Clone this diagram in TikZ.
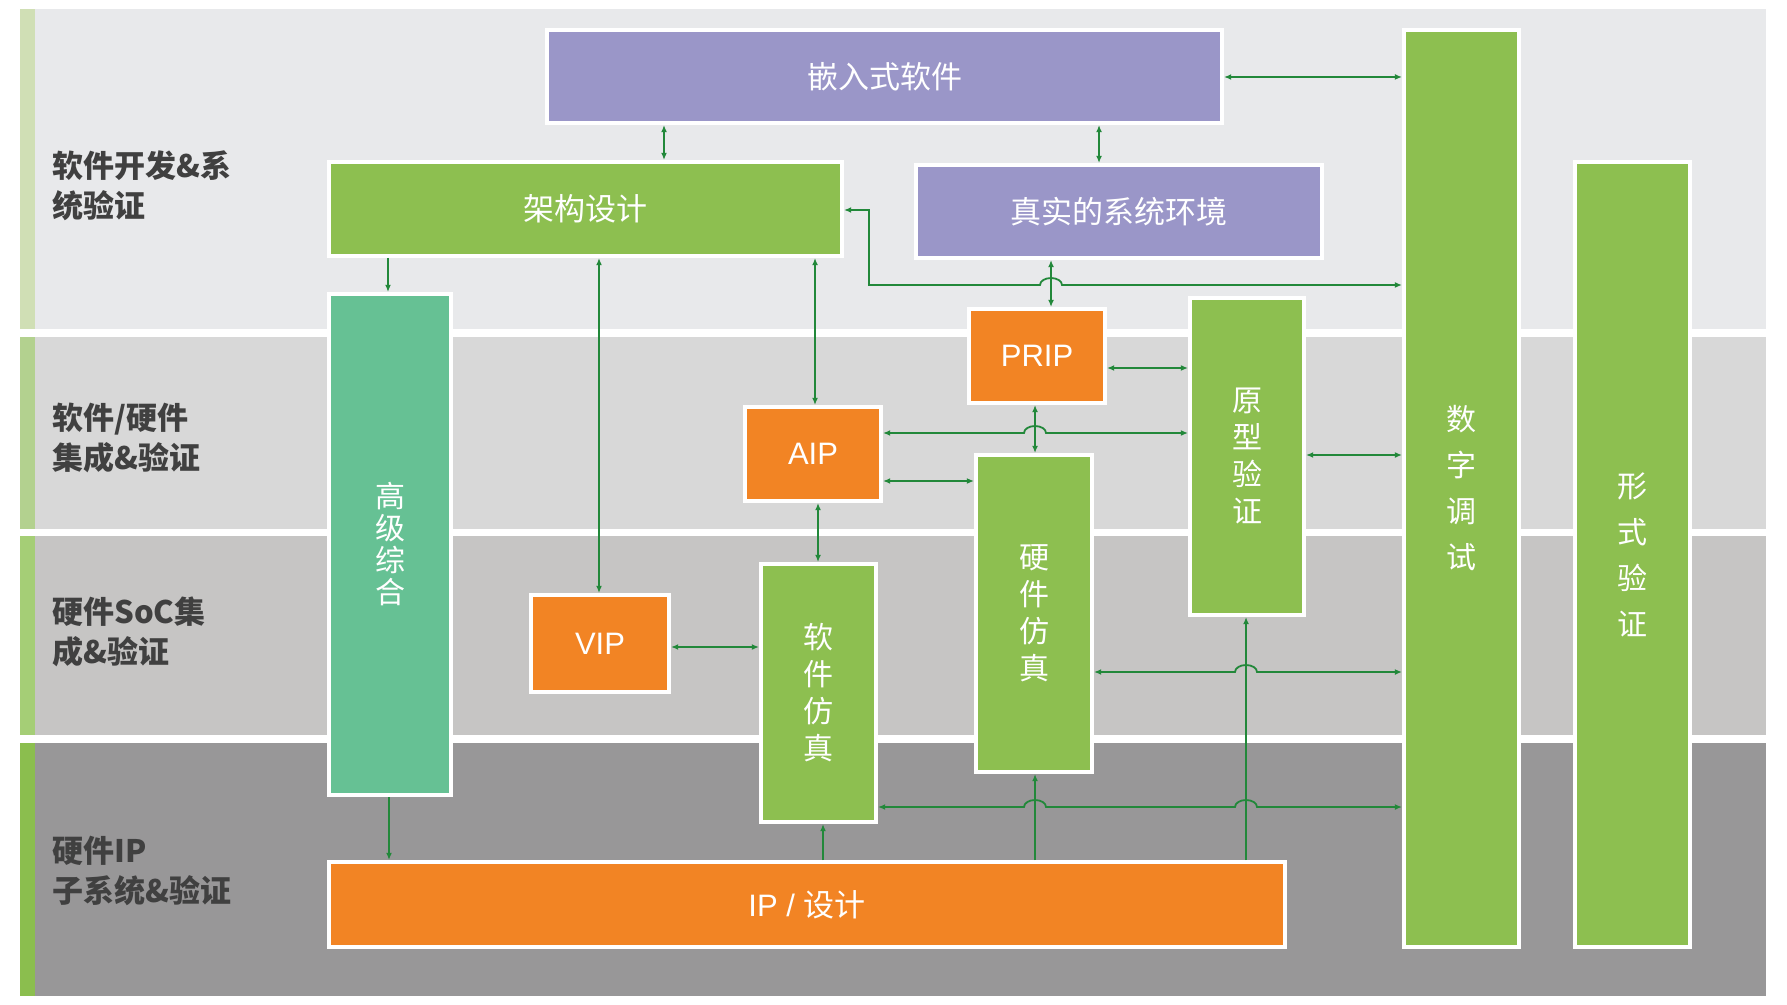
\documentclass[tikz,border=0pt]{standalone}
\usepackage{fontspec}
\newfontfamily\cjk{Noto Sans CJK SC}
\newfontfamily\lat{Liberation Sans}
\usetikzlibrary{arrows.meta}
\definecolor{bandA}{HTML}{E8E9EB}
\definecolor{bandB}{HTML}{D8D8D8}
\definecolor{bandC}{HTML}{C6C5C4}
\definecolor{bandD}{HTML}{989798}
\definecolor{stripA}{HTML}{D0DFB5}
\definecolor{stripB}{HTML}{B3D18F}
\definecolor{stripC}{HTML}{A5CE76}
\definecolor{stripD}{HTML}{8BBE4E}
\definecolor{cpurple}{HTML}{9A96C8}
\definecolor{cgreen}{HTML}{8DBF50}
\definecolor{cteal}{HTML}{66C194}
\definecolor{corange}{HTML}{F28424}
\definecolor{agreen}{HTML}{22883A}
\definecolor{labtext}{HTML}{404040}
\tikzset{
  box/.style={draw=white, line width=2pt, inner sep=0pt, text=white,
    font=\cjk\fontsize{15.5}{18}\selectfont},
  vbox/.style={box, align=center},
  lat/.style={font=\lat\fontsize{15.5}{18}\selectfont},
  lab/.style={anchor=west, inner sep=0pt, align=left, text=labtext,
    font=\cjk\bfseries\fontsize{15.5}{20}\selectfont},
  arr/.style={draw=agreen, line width=0.9pt, -{Latex[length=3.6pt,width=3pt]}},
  dbl/.style={arr, {Latex[length=3.6pt,width=3pt]}-{Latex[length=3.6pt,width=3pt]}},
}
\newcommand{\hopup}{arc[start angle=180,end angle=360,x radius=11,y radius=7]}
% \bx{name}{x1}{y1}{x2}{y2}{style}{text}
\newcommand{\bx}[7]{\node[box,#6,minimum width={0.5pt*(#4-#2)},minimum height={0.5pt*(#5-#3)}] (#1) at ({(#2+#4)/2},{(#3+#5)/2}) {#7};}
\begin{document}
\begin{tikzpicture}[x=0.5pt,y=-0.5pt]
\useasboundingbox (0,0) rectangle (1787,1005);
\fill[white] (0,0) rectangle (1787,1005);
% bands
\fill[bandA] (20,9) rectangle (1766,329);
\fill[bandB] (20,337) rectangle (1766,529);
\fill[bandC] (20,536) rectangle (1766,735);
\fill[bandD] (20,743) rectangle (1766,996);
\fill[stripA] (20,9) rectangle (35,329);
\fill[stripB] (20,337) rectangle (35,529);
\fill[stripC] (20,536) rectangle (35,735);
\fill[stripD] (20,743) rectangle (35,996);
% left labels
\node[lab] (l1) at (52,185.5) {软件开发\&系\\统验证};
\node[lab] (l2) at (52,438) {软件/硬件\\集成\&验证};
\node[lab] (l3) at (52,632) {硬件SoC集\\成\&验证};
\node[lab] (l4) at (52,871) {硬件IP\\子系统\&验证};
% boxes
\bx{emb}{547}{30}{1222}{123}{fill=cpurple}{嵌入式软件}
\bx{arch}{329}{162}{842}{256}{fill=cgreen}{架构设计}
\bx{real}{916}{165}{1322}{258}{fill=cpurple}{真实的系统环境}
\bx{hls}{329}{294}{451}{795}{vbox,fill=cteal,font=\cjk\fontsize{15}{16}\selectfont}{高\\级\\综\\合}
\bx{prip}{969}{309}{1105}{403}{fill=corange,lat}{PRIP}
\bx{aip}{745}{407}{881}{501}{fill=corange,lat}{AIP}
\bx{vip}{531}{595}{669}{692}{fill=corange,lat}{VIP}
\bx{swsim}{761}{564}{876}{822}{vbox,fill=cgreen,font=\cjk\fontsize{15}{18.5}\selectfont}{软\\件\\仿\\真}
\bx{hwsim}{976}{455}{1092}{772}{vbox,fill=cgreen,font=\cjk\fontsize{15}{18.5}\selectfont}{硬\\件\\仿\\真}
\bx{proto}{1190}{298}{1304}{615}{vbox,fill=cgreen,font=\cjk\fontsize{15}{18.5}\selectfont}{原\\型\\验\\证}
\bx{dbg}{1404}{30}{1519}{947}{vbox,fill=cgreen,font=\cjk\fontsize{15}{23}\selectfont}{数\\字\\调\\试}
\bx{formal}{1575}{162}{1690}{947}{vbox,fill=cgreen,font=\cjk\fontsize{15}{23}\selectfont}{形\\式\\验\\证}
\bx{ip}{329}{862}{1285}{947}{fill=corange}{{\lat IP / }设计}
% connectors
\draw[dbl] (emb.east |- 0,77) -- (dbg.west |- 0,77);
\draw[dbl] (emb.south -| 664,0) -- (arch.north -| 664,0);
\draw[dbl] (emb.south -| 1099,0) -- (real.north -| 1099,0);
\draw[arr] (arch.south -| 388,0) -- (hls.north -| 388,0);
\draw[dbl] (arch.south -| 599,0) -- (vip.north -| 599,0);
\draw[dbl] (arch.south -| 815,0) -- (aip.north -| 815,0);
\draw[dbl] (arch.east |- 0,210) -| (869,285) -- (1040,285) \hopup -- (dbg.west |- 0,285);
\draw[dbl] (real.south -| 1051,0) -- (prip.north -| 1051,0);
\draw[dbl] (prip.east |- 0,368) -- (proto.west |- 0,368);
\draw[dbl] (prip.south -| 1035,0) -- (hwsim.north -| 1035,0);
\draw[dbl] (aip.east |- 0,433) -- (1024,433) \hopup -- (proto.west |- 0,433);
\draw[dbl] (aip.east |- 0,481) -- (hwsim.west |- 0,481);
\draw[dbl] (aip.south -| 818,0) -- (swsim.north -| 818,0);
\draw[dbl] (proto.east |- 0,455) -- (dbg.west |- 0,455);
\draw[dbl] (vip.east |- 0,647) -- (swsim.west |- 0,647);
\draw[dbl] (hwsim.east |- 0,672) -- (1235,672) \hopup -- (dbg.west |- 0,672);
\draw[arr] (ip.north -| 1246,0) -- (proto.south -| 1246,0);
\draw[arr] (ip.north -| 1035,0) -- (hwsim.south -| 1035,0);
\draw[dbl] (swsim.east |- 0,807) -- (1024,807) \hopup -- (1235,807) \hopup -- (dbg.west |- 0,807);
\draw[arr] (ip.north -| 823,0) -- (swsim.south -| 823,0);
\draw[arr] (hls.south -| 389,0) -- (ip.north -| 389,0);
\end{tikzpicture}
\end{document}
